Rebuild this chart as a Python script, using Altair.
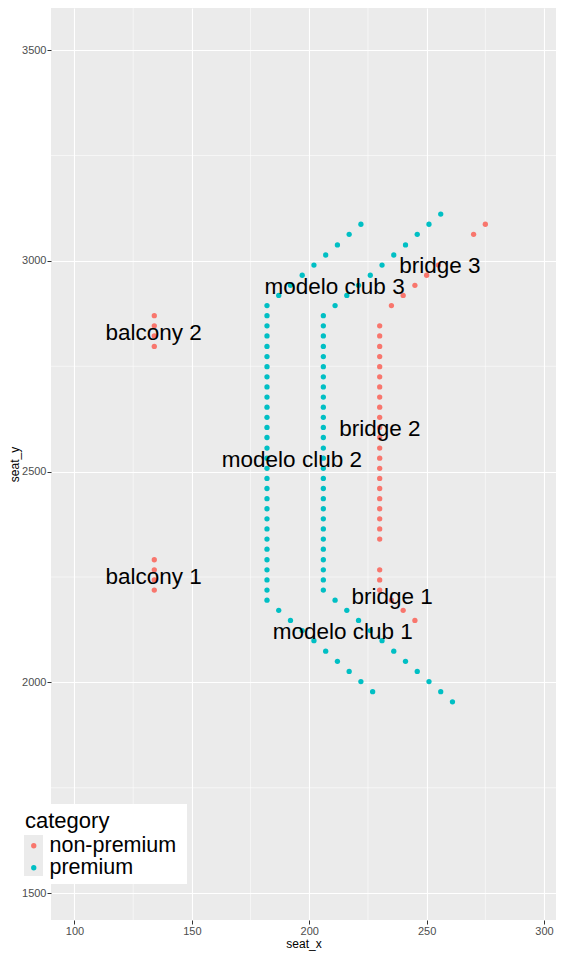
import altair as alt
import pandas as pd

# ---------------- data ----------------
balcony1_x = [134, 134, 134, 134]
balcony1_y = [2219, 2243, 2267, 2291]

balcony2_x = [134, 134, 134, 134]
balcony2_y = [2797, 2822, 2846, 2870]

bridge1_x = [230, 230, 230, 235, 240, 245]
bridge1_y = [2267, 2243, 2219, 2195, 2171, 2147]

bridge2_x = [230, 230, 230, 230, 230, 230, 230, 230, 230, 230, 230,
             230, 230, 230, 230, 230, 230, 230, 230, 230, 230, 230]
bridge2_y = [2340, 2364, 2388, 2412, 2436, 2460, 2484, 2508, 2532, 2556, 2581,
             2605, 2629, 2653, 2677, 2701, 2725, 2749, 2773, 2797, 2822, 2846]

bridge3_x = [235, 240, 245, 250, 255, 270, 275]
bridge3_y = [2894, 2918, 2942, 2966, 2990, 3063, 3087]

club1_outer_x = [187, 192, 197, 202, 207, 212, 217, 222, 227]
club1_outer_y = [2171, 2147, 2123, 2099, 2074, 2050, 2026, 2002, 1978]
club1_inner_x = [211, 216, 221, 226, 231, 236, 241, 246, 251, 256, 261]
club1_inner_y = [2195, 2171, 2147, 2123, 2099, 2074, 2050, 2026, 2002, 1978, 1954]

club2_outer_x = [182, 182, 182, 182, 182, 182, 182, 182, 182, 182,
                 182, 182, 182, 182, 182, 182, 182, 182, 182, 182,
                 182, 182, 182, 182, 182, 182, 182, 182, 182, 182]
club2_outer_y = [2195, 2219, 2243, 2267, 2291, 2316, 2340, 2364, 2388, 2412,
                 2436, 2460, 2484, 2508, 2532, 2556, 2581, 2605, 2629, 2653,
                 2677, 2701, 2725, 2749, 2773, 2797, 2822, 2846, 2870, 2894]
club2_inner_x = [206, 206, 206, 206, 206, 206, 206, 206, 206, 206,
                 206, 206, 206, 206, 206, 206, 206, 206, 206, 206,
                 206, 206, 206, 206, 206, 206, 206, 206]
club2_inner_y = [2219, 2243, 2267, 2291, 2316, 2340, 2364, 2388, 2412, 2436,
                 2460, 2484, 2508, 2532, 2556, 2581, 2605, 2629, 2653, 2677,
                 2701, 2725, 2749, 2773, 2797, 2822, 2846, 2870]

club3_outer_x = [187, 192, 197, 202, 207, 212, 217, 222]
club3_outer_y = [2918, 2942, 2966, 2990, 3014, 3038, 3063, 3087]
club3_inner_x = [211, 216, 221, 226, 231, 236, 241, 246, 251, 256]
club3_inner_y = [2894, 2918, 2942, 2966, 2990, 3014, 3038, 3063, 3087, 3111]

label_text = ["balcony 1", "balcony 2", "bridge 1", "bridge 2", "bridge 3",
              "modelo club 1", "modelo club 2", "modelo club 3"]
label_x = [133.7, 133.7, 235.3, 230.1, 255.6, 214.3, 192.6, 210.8]
label_y = [2251, 2828, 2203, 2601, 2988, 2120, 2528, 2937]

categories = ["non-premium", "premium"]
cat_colors = ["#F8766D", "#00BFC4"]

x_major = [100, 150, 200, 250, 300]
x_minor = [125, 175, 225, 275]
y_major = [1500, 2000, 2500, 3000, 3500]
y_minor = [1750, 2250, 2750, 3250]

# ---------------- build tables ----------------
groups = [
    ("balcony 1", "non-premium", balcony1_x, balcony1_y),
    ("balcony 2", "non-premium", balcony2_x, balcony2_y),
    ("bridge 1", "non-premium", bridge1_x, bridge1_y),
    ("bridge 2", "non-premium", bridge2_x, bridge2_y),
    ("bridge 3", "non-premium", bridge3_x, bridge3_y),
    ("modelo club 1", "premium", club1_outer_x, club1_outer_y),
    ("modelo club 1", "premium", club1_inner_x, club1_inner_y),
    ("modelo club 2", "premium", club2_outer_x, club2_outer_y),
    ("modelo club 2", "premium", club2_inner_x, club2_inner_y),
    ("modelo club 3", "premium", club3_outer_x, club3_outer_y),
    ("modelo club 3", "premium", club3_inner_x, club3_inner_y),
]
rows = []
for name, cat, xs, ys in groups:
    for xv, yv in zip(xs, ys):
        rows.append({"seat_x": xv, "seat_y": yv, "category": cat, "section": name})
points = pd.DataFrame(rows)
labels = pd.DataFrame({"label": label_text, "seat_x": label_x, "seat_y": label_y})

FONT = "Liberation Sans"
W, H = 505, 912
xscale = alt.Scale(domain=[90, 305.1], nice=False, zero=False)
yscale = alt.Scale(domain=[1436.3, 3600], nice=False, zero=False)

common_axis = dict(grid=True, gridColor="white", gridWidth=1.1, domain=False,
                   tickColor="#333333", tickSize=4, tickWidth=1,
                   labelColor="#4D4D4D", labelFontSize=11, labelFont=FONT,
                   labelPadding=1, titleFont=FONT, titleFontSize=12,
                   titleFontWeight="normal", titleColor="black", format="d",
                   labelOverlap=False, labelFlush=False)
xaxis = alt.Axis(values=x_major, title="seat_x", titlePadding=2, **common_axis)
yaxis = alt.Axis(values=y_major, title="seat_y", titlePadding=0, **common_axis)

X = alt.X("seat_x:Q", scale=xscale, axis=xaxis)
Y = alt.Y("seat_y:Q", scale=yscale, axis=yaxis)

vminor = alt.Chart(pd.DataFrame({"seat_x": x_minor})).mark_rule(
    color="white", strokeWidth=0.55).encode(x=X)
hminor = alt.Chart(pd.DataFrame({"seat_y": y_minor})).mark_rule(
    color="white", strokeWidth=0.55).encode(y=Y)

legend = alt.Legend(
    title="category", orient="none", legendX=-26, legendY=803,
    titleFont=FONT, titleFontSize=22, titleFontWeight="normal", titleColor="black",
    titlePadding=2, titleAnchor="start",
    labelFont=FONT, labelFontSize=21.5, labelColor="black",
    symbolType="circle", symbolSize=28, symbolStrokeWidth=0, symbolOffset=-2,
    labelOffset=5, rowPadding=-2, padding=0, zindex=1,
)

pts = alt.Chart(points).mark_circle(size=28, opacity=1).encode(
    x=X, y=Y,
    color=alt.Color("category:N",
                    scale=alt.Scale(domain=categories, range=cat_colors),
                    legend=legend),
)

txt = alt.Chart(labels).mark_text(
    font=FONT, fontSize=22.5, color="black", align="center", baseline="middle"
).encode(x=X, y=Y, text="label:N")

one = pd.DataFrame({"k": [0]})
legend_bg = alt.Chart(one).mark_rect(color="white").encode(
    x=alt.value(-46), x2=alt.value(136), y=alt.value(796), y2=alt.value(876))
key_bg = alt.Chart(one).mark_rect(color="#EBEBEB").encode(
    x=alt.value(-27), x2=alt.value(-8), y=alt.value(827), y2=alt.value(868))

chart = alt.layer(vminor, hminor, pts, txt, legend_bg, key_bg).properties(
    width=W, height=H,
    autosize=alt.AutoSizeParams(type="none"),
    padding={"left": 43, "top": 0, "right": 0, "bottom": 34},
    background="white",
).configure_view(fill="#EBEBEB", strokeWidth=0)

chart.save("out.html", embed_options={"renderer": "svg", "actions": False})
